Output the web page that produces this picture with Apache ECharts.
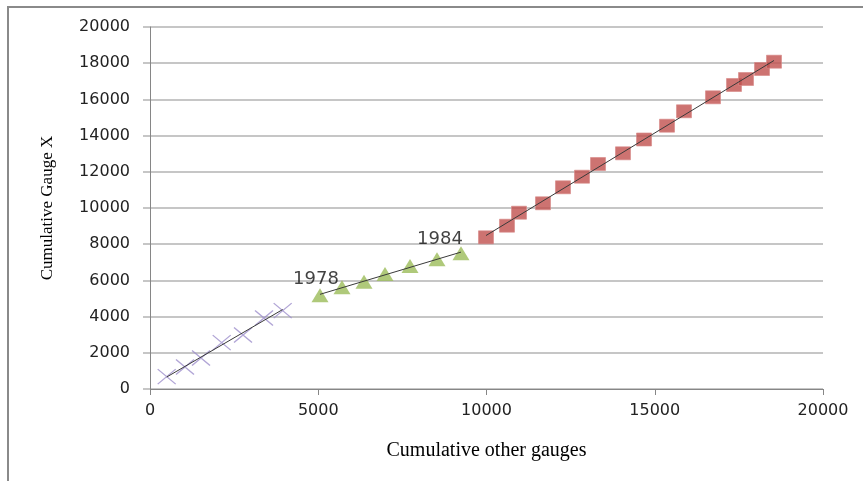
<!DOCTYPE html>
<html><head><meta charset="utf-8">
<script src="https://cdn.jsdelivr.net/npm/echarts@6/dist/echarts.min.js"></script>
<style>html,body{margin:0;padding:0;background:#fff}#c{width:863px;height:481px}</style>
</head><body><div id="c"></div>
<script>
// Early period (crosses)
const crossX = [496, 1040, 1516, 2131, 2764, 3388, 3943];
const crossY = [680, 1215, 1713, 2558, 2983, 3923, 4326];
// 1978-1984 period (triangles)
const triX = [5052, 5706, 6360, 6984, 7727, 8529, 9242];
const triY = [5177, 5619, 5928, 6354, 6796, 7166, 7497];
const triLabels = ['1978', '', '', '', '', '', '1984'];
// Later period (squares)
const sqX = [9985, 10609, 10966, 11679, 12273, 12838, 13314, 14056, 14681, 15364, 15869, 16731, 17355, 17712, 18187, 18544];
const sqY = [8381, 9022, 9740, 10260, 11144, 11729, 12431, 13022, 13785, 14547, 15343, 16116, 16796, 17127, 17680, 18083];

const xTitle = 'Cumulative other gauges';
const yTitle = 'Cumulative Gauge X';

function pairs(xs, ys) { return xs.map((x, i) => [x, ys[i]]); }
function trend(xs, ys) {
  const n = xs.length;
  const mx = xs.reduce((a, b) => a + b, 0) / n;
  const my = ys.reduce((a, b) => a + b, 0) / n;
  let sxy = 0, sxx = 0;
  for (let i = 0; i < n; i++) { sxy += (xs[i] - mx) * (ys[i] - my); sxx += (xs[i] - mx) * (xs[i] - mx); }
  const b = sxy / sxx, a = my - b * mx;
  const x0 = Math.min(...xs), x1 = Math.max(...xs);
  return [[x0, a + b * x0], [x1, a + b * x1]];
}

const labelOffsets = { '1978': [-4, -16], '1984': [-21, -14] };
const triData = triX.map((x, i) => {
  const item = { value: [x, triY[i]] };
  if (triLabels[i]) {
    item.label = { show: true, formatter: triLabels[i], position: 'inside', offset: labelOffsets[triLabels[i]],
      fontFamily: 'DejaVu Sans', fontSize: 18, color: '#111' };
  }
  return item;
});

const tickFont = { fontFamily: 'DejaVu Sans', fontSize: 16, color: '#222', formatter: v => String(v) };
const trendStyle = { color: '#3a3a3a', width: 1 };

const chart = echarts.init(document.getElementById('c'), null, { renderer: 'canvas' });
chart.setOption({
  animation: false,
  backgroundColor: '#fff',
  grid: { left: 150, right: 40, top: 27, bottom: 92, containLabel: false },
  graphic: [{ type: 'rect', silent: true, shape: { x: 8, y: 7, width: 900, height: 520 },
    style: { fill: 'none', stroke: '#8a8a8a', lineWidth: 2 } }],
  xAxis: {
    type: 'value', min: 0, max: 20000, interval: 5000,
    axisLine: { show: true, lineStyle: { color: '#868686', width: 1 } },
    axisTick: { show: true, length: 6, lineStyle: { color: '#868686' } },
    splitLine: { show: false },
    axisLabel: Object.assign({ margin: 14 }, tickFont),
    name: xTitle, nameLocation: 'middle', nameGap: 52,
    nameTextStyle: { fontFamily: 'Liberation Serif', fontSize: 20, color: '#000' }
  },
  yAxis: {
    type: 'value', min: 0, max: 20000, interval: 2000,
    axisLine: { show: true, lineStyle: { color: '#868686', width: 1 } },
    axisTick: { show: true, length: 7, lineStyle: { color: '#c6c6c6', width: 2 } },
    splitLine: { show: true, lineStyle: { color: '#c6c6c6', width: 2 } },
    axisLabel: Object.assign({ margin: 20 }, tickFont),
    name: yTitle, nameLocation: 'middle', nameGap: 94, nameRotate: 90,
    nameTextStyle: { fontFamily: 'Liberation Serif', fontSize: 17, color: '#000' }
  },
  series: [
    { type: 'scatter', data: pairs(crossX, crossY), symbol: 'path://M0 0L10 10M10 0L0 10', symbolSize: [18, 15],
      itemStyle: { color: 'none', borderColor: '#9d8fcc', borderWidth: 1.2 }, z: 3 },
    { type: 'scatter', data: triData, symbol: 'triangle', symbolSize: [17, 14],
      itemStyle: { color: '#9bbb59' }, z: 3 },
    { type: 'scatter', data: pairs(sqX, sqY), symbol: 'rect', symbolSize: [15, 13],
      itemStyle: { color: '#c0504d', borderColor: '#d88a88', borderWidth: 0.8 }, z: 3 },
    { type: 'line', data: trend(crossX, crossY), symbol: 'none', lineStyle: trendStyle, z: 5 },
    { type: 'line', data: trend(triX, triY), symbol: 'none', lineStyle: trendStyle, z: 5 },
    { type: 'line', data: trend(sqX, sqY), symbol: 'none', lineStyle: trendStyle, z: 5 }
  ]
});
</script>
</body></html>
